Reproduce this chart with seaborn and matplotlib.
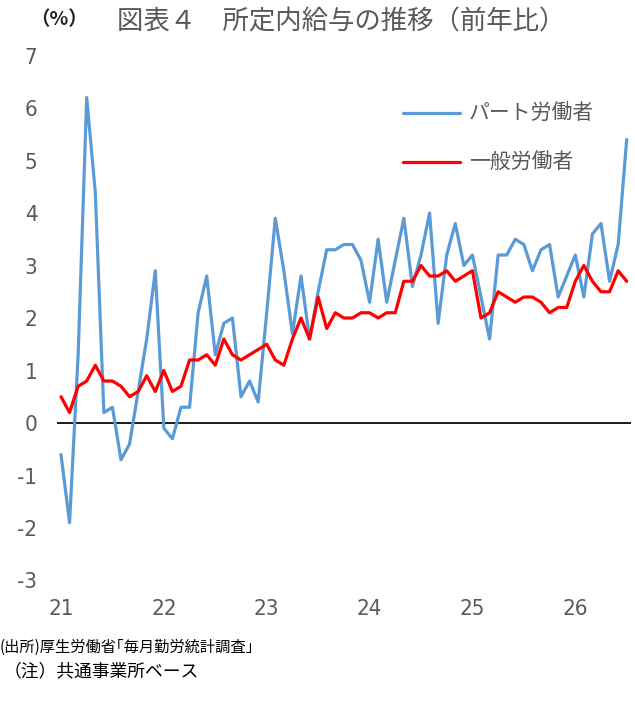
import numpy as np
import pandas as pd
import matplotlib
matplotlib.use("Agg")
import matplotlib.pyplot as plt
import seaborn as sns

# 所定内給与（前年比, %）: 2021年1月から月次
part_time = [-0.6, -1.9, 1.3, 6.2, 4.4, 0.2, 0.3, -0.7, -0.4, 0.6, 1.6, 2.9,
             -0.1, -0.3, 0.3, 0.3, 2.1, 2.8, 1.3, 1.9, 2.0, 0.5, 0.8, 0.4,
             2.1, 3.9, 2.9, 1.7, 2.8, 1.6, 2.5, 3.3, 3.3, 3.4, 3.4, 3.1,
             2.3, 3.5, 2.3, 3.1, 3.9, 2.6, 3.2, 4.0, 1.9, 3.2, 3.8, 3.0,
             3.2, 2.4, 1.6, 3.2, 3.2, 3.5, 3.4, 2.9, 3.3, 3.4, 2.4, 2.8,
             3.2, 2.4, 3.6, 3.8, 2.7, 3.4, 5.4]
general = [0.5, 0.2, 0.7, 0.8, 1.1, 0.8, 0.8, 0.7, 0.5, 0.6, 0.9, 0.6,
           1.0, 0.6, 0.7, 1.2, 1.2, 1.3, 1.1, 1.6, 1.3, 1.2, 1.3, 1.4,
           1.5, 1.2, 1.1, 1.6, 2.0, 1.6, 2.4, 1.8, 2.1, 2.0, 2.0, 2.1,
           2.1, 2.0, 2.1, 2.1, 2.7, 2.7, 3.0, 2.8, 2.8, 2.9, 2.7, 2.8,
           2.9, 2.0, 2.1, 2.5, 2.4, 2.3, 2.4, 2.4, 2.3, 2.1, 2.2, 2.2,
           2.7, 3.0, 2.7, 2.5, 2.5, 2.9, 2.7]
year_labels = ["21", "22", "23", "24", "25", "26"]
series_names = ["パート労働者", "一般労働者"]
y_ticks = [7, 6, 5, 4, 3, 2, 1, 0, -1, -2, -3]

months = np.arange(len(part_time))
df = pd.DataFrame({
    "month": np.concatenate([months, months]),
    "value": part_time + general,
    "series": [series_names[0]] * len(part_time) + [series_names[1]] * len(general),
})

sns.set_theme(style="white")
cjk = ["Noto Sans CJK JP", "DejaVu Sans"]
plt.rcParams["font.family"] = cjk
plt.rcParams["axes.unicode_minus"] = False
gray = "#595959"

fig = plt.figure(figsize=(6.35, 7.01), dpi=100)
ax = fig.add_axes([0.0893, 0.1719, 0.9044, 0.7489])

sns.lineplot(data=df, x="month", y="value", hue="series",
             palette={series_names[0]: "#5B9BD5", series_names[1]: "#FF0000"},
             linewidth=2.3, ax=ax)
ax.axhline(0, color="#1a1a1a", linewidth=1.4, zorder=1)

ax.set_xlim(-0.5, len(part_time) - 0.5)
ax.set_ylim(-3, 7)
ax.set_yticks(y_ticks)
ax.set_xticks(np.arange(len(year_labels)) * 12)
ax.set_xticklabels(year_labels)
ax.set_xlabel("")
ax.set_ylabel("")
for s in ax.spines.values():
    s.set_visible(False)
ax.tick_params(axis="both", length=0, labelsize=16, labelcolor=gray)
ax.tick_params(axis="y", pad=14)
ax.tick_params(axis="x", pad=13)
for lab in ax.get_xticklabels() + ax.get_yticklabels():
    lab.set_family(["DejaVu Sans"])
    lab.set_fontstretch("condensed")

leg = ax.legend(loc="upper left", bbox_to_anchor=(403 / 635, 1 - 103 / 701),
                bbox_transform=fig.transFigure, frameon=False, fontsize=15,
                handlelength=2.75, handletextpad=0.4, labelspacing=1.3,
                borderpad=0, borderaxespad=0)
for t in leg.get_texts():
    t.set_color(gray)
for h in leg.get_lines():
    h.set_linewidth(2.3)

fig.text(30 / 635, 1 - 20 / 701, "（%）", fontsize=14, fontweight="bold",
         color="#222222", va="center", ha="left")
fig.text(117 / 635, 1 - 22 / 701, "図表４　所定内給与の推移（前年比）",
         fontsize=19, color=gray, va="center", ha="left")
fig.text(0 / 635, 1 - 647 / 701, "(出所)厚生労働省｢毎月勤労統計調査｣",
         fontsize=11, color="black", va="center", ha="left")
fig.text(4 / 635, 1 - 672 / 701, "（注）共通事業所ベース",
         fontsize=12.8, color="black", va="center", ha="left")

fig.savefig("out.png", dpi=100)
